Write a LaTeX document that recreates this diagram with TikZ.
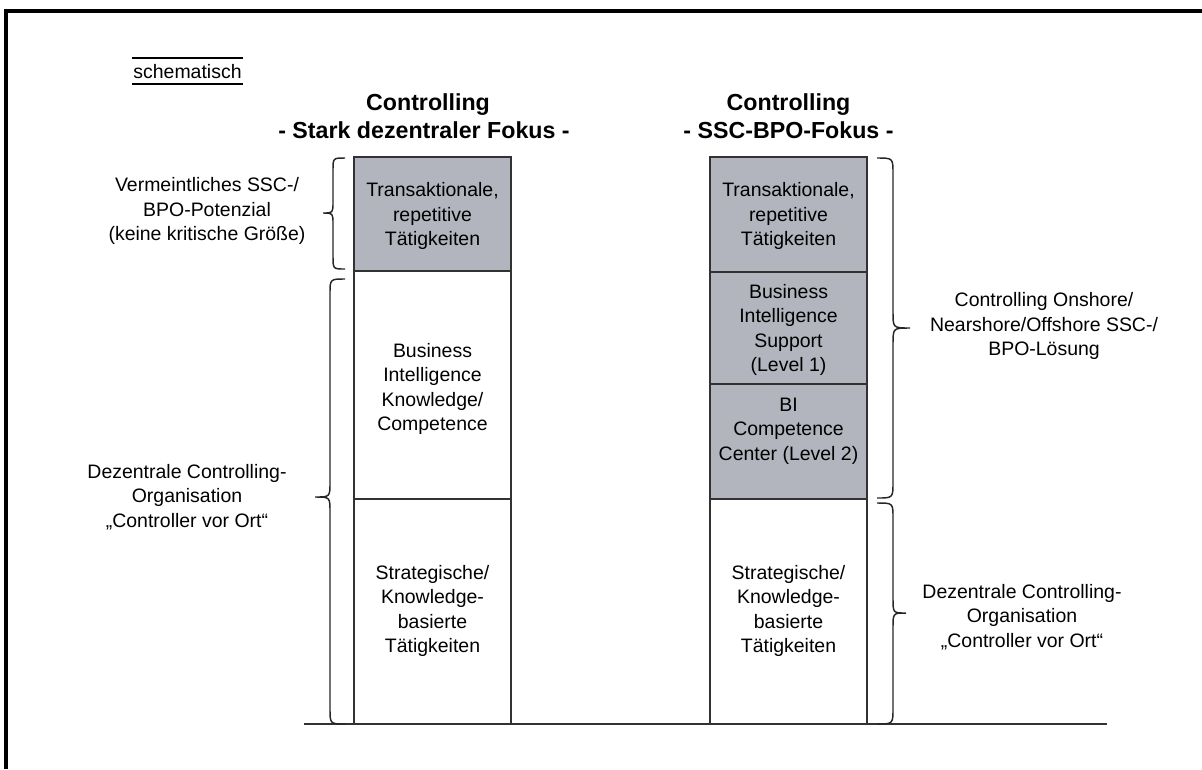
\documentclass[tikz,border=0pt]{standalone}
\usepackage{fontspec}
\setmainfont{Liberation Sans}
\definecolor{boxgray}{RGB}{178,181,190}
\definecolor{linegray}{RGB}{50,50,50}
\begin{document}
\begin{tikzpicture}[x=0.75pt,y=-0.75pt,
  txt/.style={align=center,inner sep=0pt,font=\fontsize{14.6}{18.4}\selectfont},
  ttl/.style={anchor=base,inner sep=0pt,font=\fontsize{17.4}{21}\selectfont\bfseries},
  boxline/.style={draw=linegray,line width=1.1pt},
  bracel/.style={draw=black!85,line width=1.1pt}]
\useasboundingbox (0,0) rectangle (1202,769);
% frame
\draw[line width=2.3pt] (6,769) -- (6,11) -- (1202,11);
% schematisch
\node[txt] (sch) at (187.5,72) {schematisch};
\draw[line width=0.8pt] (132,58) -- (243,58);
\draw[line width=0.8pt] (132,84) -- (243,84);
% titles
\node[ttl] (tl1) at (428,110) {Controlling};
\node[ttl] (tl2) at (424,138) {- Stark dezentraler Fokus -};
\node[ttl] (tr1) at (788.5,110) {Controlling};
\node[ttl] (tr2) at (788.5,138) {- SSC-BPO-Fokus -};
% left column
\draw[boxline,fill=boxgray] (354,157) rectangle (511,271);
\draw[boxline] (354,271) rectangle (511,499);
\draw[boxline] (354,499) rectangle (511,724);
\node[txt] (l1) at (432.5,216) {Transaktionale,\\repetitive\\Tätigkeiten};
\node[txt] (l2) at (432.5,389) {Business\\Intelligence\\Knowledge/\\Competence};
\node[txt] (l3) at (432.5,611) {Strategische/\\Knowledge-\\basierte\\Tätigkeiten};
% right column
\draw[boxline,fill=boxgray] (710,157) rectangle (867,272);
\draw[boxline,fill=boxgray] (710,272) rectangle (867,384);
\draw[boxline,fill=boxgray] (710,384) rectangle (867,499);
\draw[boxline] (710,499) rectangle (867,724);
\node[txt] (r1) at (788.5,216) {Transaktionale,\\repetitive\\Tätigkeiten};
\node[txt] (r2) at (788.5,330) {Business\\Intelligence\\Support\\(Level 1)};
\node[txt] (r3) at (788.5,431) {BI\\Competence\\Center (Level 2)};
\node[txt] (r4) at (788.5,611) {Strategische/\\Knowledge-\\basierte\\Tätigkeiten};
% base line
\draw[boxline] (304,724) -- (1107,724);
% left braces
\draw[bracel] (345,158) .. controls (333,158) .. (333,170) -- (333,202)
  .. controls (333,213) .. (323,213) .. controls (333,213) .. (333,224)
  -- (333,256) .. controls (333,269) .. (345,269);
\draw[bracel] (345,279) .. controls (330,279) .. (330,294) -- (330,482)
  .. controls (330,497) .. (315,497) .. controls (330,497) .. (330,512)
  -- (330,708) .. controls (330,724) .. (345,724);
% right braces
\draw[bracel] (877,158) .. controls (893,158) .. (893,174) -- (893,312)
  .. controls (893,328) .. (910,328) .. controls (893,328) .. (893,344)
  -- (893,482) .. controls (893,498) .. (877,498);
\draw[bracel] (877,503) .. controls (893,503) .. (893,518) -- (893,598)
  .. controls (893,613) .. (906,613) .. controls (893,613) .. (893,628)
  -- (893,708) .. controls (893,724) .. (877,724);
% brace labels
\node[txt] (bl1) at (207,211) {Vermeintliches SSC-/\\BPO-Potenzial\\(keine kritische Größe)};
\node[txt] (bl2) at (187,497) {Dezentrale Controlling-\\Organisation\\„Controller vor Ort“};
\node[txt] (br1) at (1044,326) {Controlling Onshore/\\Nearshore/Offshore SSC-/\\BPO-Lösung};
\node[txt] (br2) at (1022,617) {Dezentrale Controlling-\\Organisation\\„Controller vor Ort“};
\end{tikzpicture}
\end{document}
